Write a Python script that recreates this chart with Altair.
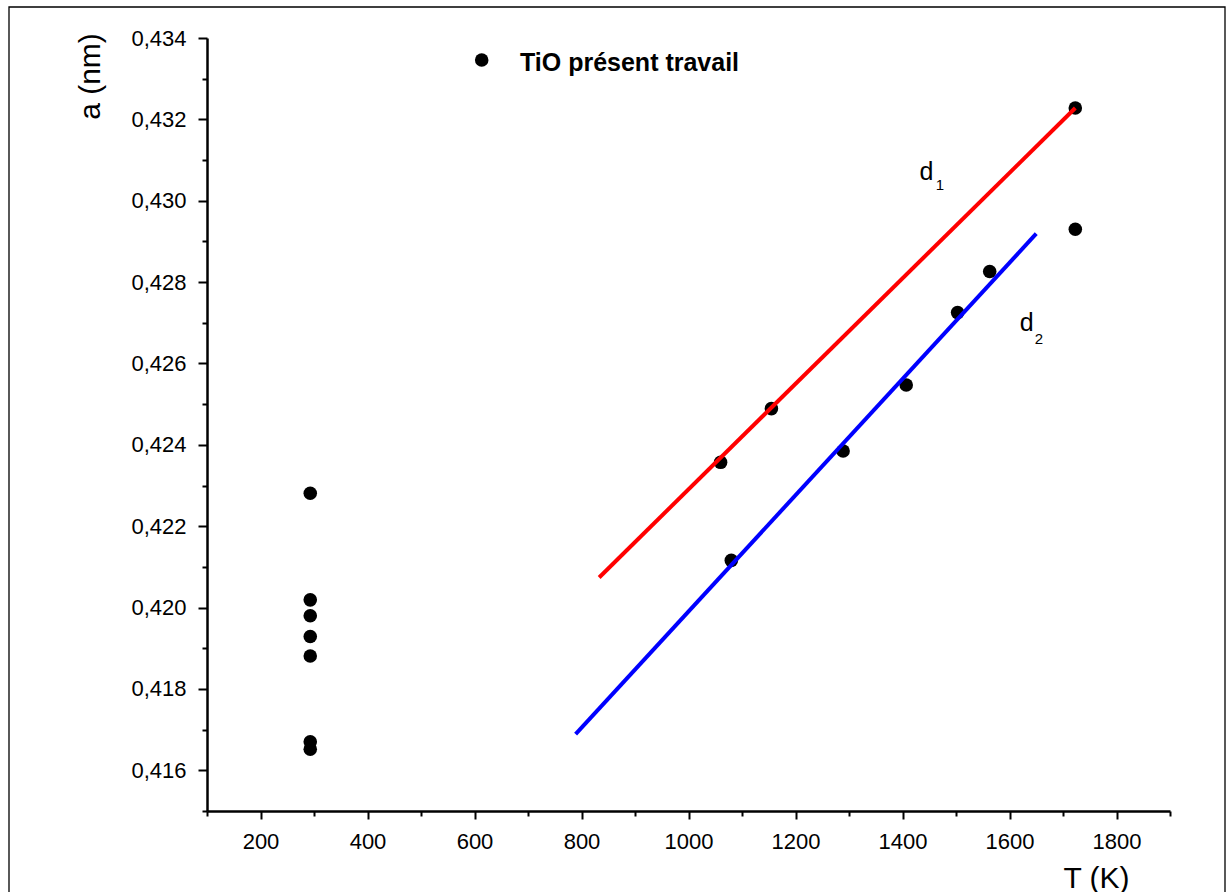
import altair as alt
import pandas as pd

# ---- data ----
T_points = [293, 293, 293, 293, 293, 293, 293,
            1060, 1155, 1080, 1289, 1407, 1503, 1563, 1723, 1723]
a_points = [0.42281, 0.42019, 0.41980, 0.41929, 0.41881, 0.41670, 0.41652,
            0.42357, 0.42489, 0.42116, 0.42385, 0.42547, 0.42725, 0.42826,
            0.43228, 0.42930]

line_names = ["d1", "d1", "d2", "d2"]
line_T = [833, 1723, 789, 1650]
line_a = [0.42074, 0.43228, 0.41689, 0.42919]
line_colors = ["#FF0000", "#0000FF"]

ann_text = ["d", "1", "d", "2"]
ann_T = [1432, 1462, 1619, 1647]
ann_a = [0.43052, 0.43026, 0.42679, 0.42649]
ann_size = [25, 15, 25, 15]

x_major = [200, 400, 600, 800, 1000, 1200, 1400, 1600, 1800]
x_minor = [100, 300, 500, 700, 900, 1100, 1300, 1500, 1700, 1900]
y_major = [0.416, 0.418, 0.420, 0.422, 0.424, 0.426, 0.428, 0.430, 0.432, 0.434]
y_minor = [0.415, 0.417, 0.419, 0.421, 0.423, 0.425, 0.427, 0.429, 0.431, 0.433]

legend_label = ["TiO présent travail"]

FONT = "Liberation Sans"
W, H = 963, 773
LEFT, TOP = 207, 38

pts = pd.DataFrame({"T": T_points, "a": a_points})
lines = pd.DataFrame({"name": line_names, "T": line_T, "a": line_a})
ann = pd.DataFrame({"text": ann_text, "T": ann_T, "a": ann_a, "size": ann_size})
leg = pd.DataFrame({"label": legend_label})
one = pd.DataFrame({"k": [0]})

xscale = alt.Scale(domain=[100, 1900], nice=False, zero=False)
yscale = alt.Scale(domain=[0.415, 0.434], nice=False, zero=False)

label_expr = "replace(format(datum.value, '.3f'), '.', ',')"

AX = dict(labelFont=FONT, labelFontSize=22, labelColor="black",
          titleFont=FONT, titleFontSize=30, titleFontWeight="normal", titleColor="black",
          domainColor="black", domainWidth=2.5, tickColor="black", tickWidth=2, grid=False)

# major axes + points
points = alt.Chart(pts).mark_circle(size=184, color="black", opacity=1).encode(
    x=alt.X("T:Q", scale=xscale, axis=alt.Axis(
        values=x_major, tickSize=8, labelPadding=12, format="d",
        title="T (K)", titleX=889, titleY=76, titleAlign="center",
        titleBaseline="alphabetic", titleAngle=0, labelFlush=False,
        labelOverlap=False, orient="bottom", **AX)),
    y=alt.Y("a:Q", scale=yscale, axis=alt.Axis(
        values=y_major, tickSize=9, labelPadding=12, labelExpr=label_expr,
        title="a (nm)", titleX=-108, titleY=38, titleAlign="center",
        titleBaseline="alphabetic", titleAngle=270, labelFlush=False,
        labelOverlap=False, orient="left", **AX)),
)

# minor ticks
minor = alt.Chart(pts).mark_circle(opacity=0).encode(
    x=alt.X("T:Q", scale=xscale, axis=alt.Axis(
        values=x_minor, tickSize=5, labels=False, domain=False, title="",
        orient="bottom", tickColor="black", tickWidth=2, grid=False)),
    y=alt.Y("a:Q", scale=yscale, axis=alt.Axis(
        values=y_minor, tickSize=5, labels=False, domain=False, title="",
        orient="left", tickColor="black", tickWidth=2, grid=False)),
)

fit_lines = alt.Chart(lines).mark_line(strokeWidth=4).encode(
    x=alt.X("T:Q", scale=xscale, axis=None),
    y=alt.Y("a:Q", scale=yscale, axis=None),
    color=alt.Color("name:N", scale=alt.Scale(domain=["d1", "d2"], range=line_colors), legend=None),
    detail="name:N",
)

labels = alt.Chart(ann).mark_text(align="left", baseline="alphabetic", font=FONT, color="black").encode(
    x=alt.X("T:Q", scale=xscale, axis=None),
    y=alt.Y("a:Q", scale=yscale, axis=None),
    text="text:N",
    size=alt.Size("size:Q", scale=None, legend=None),
)

legend_dot = alt.Chart(leg).mark_circle(size=184, color="black", opacity=1).encode(
    x=alt.value(481.7 - LEFT), y=alt.value(60 - TOP)
)
legend_text = alt.Chart(leg).mark_text(
    align="left", baseline="alphabetic", font=FONT, fontSize=25, fontWeight="bold", color="black"
).encode(x=alt.value(520 - LEFT), y=alt.value(70.5 - TOP), text="label:N")

frame = alt.Chart(one).mark_rect(fillOpacity=0, stroke="black", strokeWidth=1.3, clip=False).encode(
    x=alt.value(9 - LEFT), x2=alt.value(1225 - LEFT),
    y=alt.value(7 - TOP), y2=alt.value(900),
)

chart = alt.layer(frame, minor, points, fit_lines, labels, legend_dot, legend_text).resolve_axis(
    x="independent", y="independent"
).properties(
    width=W, height=H,
    background="white",
    autosize=alt.AutoSizeParams(type="none"),
    padding={"left": LEFT, "top": TOP, "right": 1230 - LEFT - W, "bottom": 892 - TOP - H},
).configure_view(strokeWidth=0).configure_axis(grid=False)

chart.save("out.html", embed_options={"renderer": "svg", "actions": False})
